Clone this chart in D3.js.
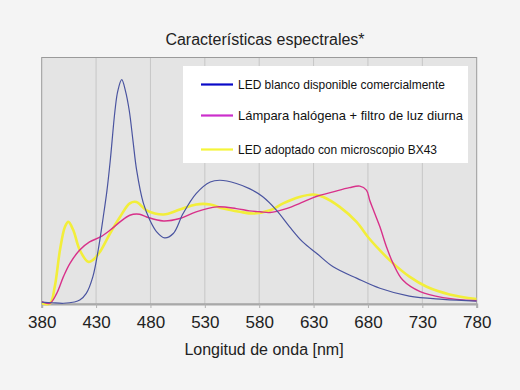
<!DOCTYPE html>
<html>
<head>
<meta charset="utf-8">
<script src="https://cdn.jsdelivr.net/npm/d3@7"></script>
<style>
  html, body { margin: 0; padding: 0; background: #f4f4f4; }
  svg { display: block; font-family: "Liberation Sans", Arial, sans-serif; }
</style>
</head>
<body>
<svg id="chart" width="520" height="390"></svg>
<script>
// ---- data (relative spectral intensity) ----
const title = "Características espectrales*";
const xTitle = "Longitud de onda [nm]";
const xTicks = [380, 430, 480, 530, 580, 630, 680, 730, 780];

const seriesNames = [
  "LED blanco disponible comercialmente",
  "Lámpara halógena + filtro de luz diurna",
  "LED adoptado con microscopio BX43"
];

const blueWl  = [380, 390, 400, 410, 415, 421, 427, 432, 436.6, 440, 443, 447.4, 450, 453.6, 457, 460.5, 464, 467.3, 473.4, 479.5, 485.7, 493, 501, 510, 522, 535, 544, 559, 571, 583, 596, 608, 620, 633, 648, 670, 691, 718, 749, 780];
const blueVal = [0.8, 0.5, 0.3, 0.8, 1.6, 4.3, 11, 22, 35.3, 46, 58, 78.5, 86.5, 91, 86.5, 78.5, 66, 54.3, 41, 34, 29.3, 26.8, 28.6, 36.7, 44.8, 49.5, 50.2, 48.9, 46.8, 43.6, 38, 31.3, 25.2, 20.5, 15.1, 10.4, 6.4, 3.2, 1.9, 1.2];

const pinkWl  = [380, 387.6, 393.8, 399.9, 406, 415, 424, 434, 443, 452, 461, 470, 476.5, 492, 507, 522, 541, 559, 571, 581, 590, 605, 620.5, 633, 648, 663, 672.5, 678.6, 681.7, 686, 691, 697, 703, 712, 728, 749, 780];
const pinkVal = [1.0, 0.3, 4.3, 11, 16.5, 21.9, 25.2, 27.2, 30, 33.3, 36, 36.4, 35.3, 33.7, 34.7, 37.4, 39.4, 38.7, 37.8, 37.4, 37.1, 38.7, 41.4, 43.7, 45.5, 47.2, 47.8, 46.2, 42, 37, 31.3, 23.2, 16.6, 9.7, 5, 2.6, 1.3];

const yellowWl  = [380, 387.6, 392, 396.8, 401.4, 404.5, 409, 415, 422.8, 427, 433.6, 442.8, 452, 461, 467, 476.5, 492, 507, 522, 535, 547, 562, 575, 590, 602, 617, 630, 639, 654, 669.5, 680, 688, 701.6, 718.5, 734, 755, 780];
const yellowVal = [0.3, 0.2, 7, 21.9, 31.3, 33.3, 30, 21.9, 17.1, 17.8, 21.2, 28.6, 35.3, 40.8, 41.4, 38, 36.3, 38.3, 40.4, 40.4, 38.7, 37.4, 36.7, 38, 40.8, 43.4, 44.4, 43.4, 39.4, 33.3, 27.2, 23.2, 17.1, 11, 7, 3.9, 2];

// ---- layout ----
const svg = d3.select("#chart");
const L = 41.7, R = 476.7, T = 57.5, B = 304;

const x = d3.scaleLinear().domain([380, 780]).range([L, R]);
const y = d3.scaleLinear().domain([0, 100]).range([B, T]);

// page background
svg.append("rect").attr("width", 520).attr("height", 390).attr("fill", "#f4f4f4");

// plot background
svg.append("rect")
  .attr("x", L).attr("y", T).attr("width", R - L).attr("height", B - T)
  .attr("fill", "#e4e4e4");

// vertical grid lines
svg.append("g").selectAll("line")
  .data(xTicks.slice(1, -1))
  .join("line")
  .attr("x1", d => x(d)).attr("x2", d => x(d))
  .attr("y1", T).attr("y2", B)
  .attr("stroke", "#c6c6c6").attr("stroke-width", 1);

// plot border
svg.append("rect")
  .attr("x", L).attr("y", T).attr("width", R - L).attr("height", B - T)
  .attr("fill", "none").attr("stroke", "#9a9a9a").attr("stroke-width", 1);

// x axis
const xAxis = d3.axisBottom(x).tickValues(xTicks).tickSize(4).tickPadding(8).tickFormat(d3.format("d"));
const gx = svg.append("g").attr("transform", `translate(0,${B})`).call(xAxis);
gx.select(".domain").attr("stroke", "#a8a8a8").attr("stroke-width", 2);
gx.selectAll(".tick line").attr("stroke", "#b0b0b0");
gx.selectAll(".tick text")
  .attr("font-size", 17).attr("fill", "#222")
  .attr("font-family", "'Liberation Sans', Arial, sans-serif");

// titles
svg.append("text").attr("x", 265).attr("y", 45).attr("text-anchor", "middle")
  .attr("font-size", 16).attr("fill", "#222").text(title);
svg.append("text").attr("x", 264).attr("y", 355).attr("text-anchor", "middle")
  .attr("font-size", 16).attr("fill", "#222").text(xTitle);

// lines
const line = d3.line()
  .x(d => x(d[0])).y(d => y(d[1]))
  .curve(d3.curveCatmullRom.alpha(0.5));

const series = [
  { wl: yellowWl, v: yellowVal, color: "#f2ee3a", w: 2.6 },
  { wl: pinkWl,   v: pinkVal,   color: "#d8318a", w: 1.4 },
  { wl: blueWl,   v: blueVal,   color: "#4a54a0", w: 1.2 }
];

const clipId = "plotclip";
svg.append("clipPath").attr("id", clipId).append("rect")
  .attr("x", L).attr("y", T).attr("width", R - L).attr("height", B - T + 2);

const gl = svg.append("g").attr("clip-path", `url(#${clipId})`);
series.forEach(s => {
  gl.append("path")
    .datum(d3.zip(s.wl, s.v))
    .attr("d", line)
    .attr("fill", "none")
    .attr("stroke", s.color)
    .attr("stroke-width", s.w)
    .attr("stroke-linejoin", "round");
});

// legend
const leg = svg.append("g");
leg.append("rect").attr("x", 183).attr("y", 66).attr("width", 285).attr("height", 97)
  .attr("fill", "#ffffff");
const legColors = ["#0a0ac8", "#cc2ecc", "#f5f53a"];
const legY = [84.5, 115.5, 149.5];
const legLen = [207, 225, 199];
seriesNames.forEach((name, i) => {
  leg.append("line")
    .attr("x1", 201).attr("x2", 233)
    .attr("y1", legY[i]).attr("y2", legY[i])
    .attr("stroke", legColors[i]).attr("stroke-width", 2.2);
  leg.append("text")
    .attr("x", 238).attr("y", legY[i] + 4.5)
    .attr("font-size", 12.2).attr("fill", "#111")
    .attr("textLength", legLen[i]).attr("lengthAdjust", "spacingAndGlyphs")
    .text(name);
});
</script>
</body>
</html>
